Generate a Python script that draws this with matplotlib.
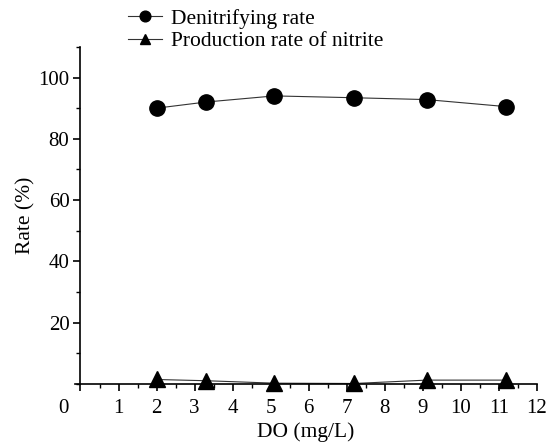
import matplotlib
matplotlib.use("Agg")
import matplotlib.pyplot as plt
import matplotlib.transforms as mtransforms
from matplotlib.ticker import MultipleLocator

plt.rcParams['font.family'] = ['Liberation Serif', 'DejaVu Serif']

do = [2.0, 3.3, 5.1, 7.2, 9.1, 11.2]
denitrifying = [90.0, 92.0, 94.0, 93.4, 92.8, 90.5]
nitrite = [1.5, 1.1, 0.3, 0.2, 1.3, 1.3]
xticks = list(range(0, 13))
yticks = [20, 40, 60, 80, 100]

fig = plt.figure(figsize=(5.54, 4.42), dpi=100)
ax = fig.add_axes([0.135, 0.131, 0.834, 0.763])

l1, = ax.plot(do, denitrifying, color='#333333', lw=0.8, marker='o', ms=11,
              mfc='black', mec='black', clip_on=False, label='Denitrifying rate')
l2, = ax.plot(do, nitrite, color='#333333', lw=0.8, marker='^', ms=11,
              mfc='black', mec='black', clip_on=False, label='Production rate of nitrite')

ax.set_xlim(-0.15, 12)
ax.set_ylim(0, 110)
ax.spines['left'].set_position(('data', 0))
ax.spines['right'].set_visible(False)
ax.spines['top'].set_visible(False)
for s in ('left', 'bottom'):
    ax.spines[s].set_linewidth(1.2)

ax.set_xticks(xticks)
ax.set_xticklabels([str(v) for v in xticks])
ax.xaxis.set_minor_locator(MultipleLocator(0.5))
ax.set_yticks(yticks)
ax.set_yticklabels([str(v) for v in yticks])
ax.yaxis.set_minor_locator(MultipleLocator(10))
ax.tick_params(axis='both', which='major', direction='out', length=5, width=1.2,
               labelsize=15, pad=3)
ax.tick_params(axis='x', which='major', pad=6)
ax.tick_params(axis='both', which='minor', direction='out', length=3, width=1.0)

# shift the "0" label left of the axis origin
lab0 = ax.get_xticklabels()[0]
lab0.set_transform(lab0.get_transform() + mtransforms.ScaledTranslation(-0.17, 0, fig.dpi_scale_trans))

ax.set_xlabel('DO (mg/L)', fontsize=15.5, labelpad=3)
ax.set_ylabel('Rate (%)', fontsize=15.5, labelpad=2)

fig.legend(handles=[l1, l2], loc='upper left', bbox_to_anchor=(0.215, 1.0),
           frameon=False, fontsize=15.5, handlelength=1.6, handletextpad=0.4,
           labelspacing=0.12, borderaxespad=0.0, markerscale=0.7)

fig.savefig('out.png', dpi=100)
